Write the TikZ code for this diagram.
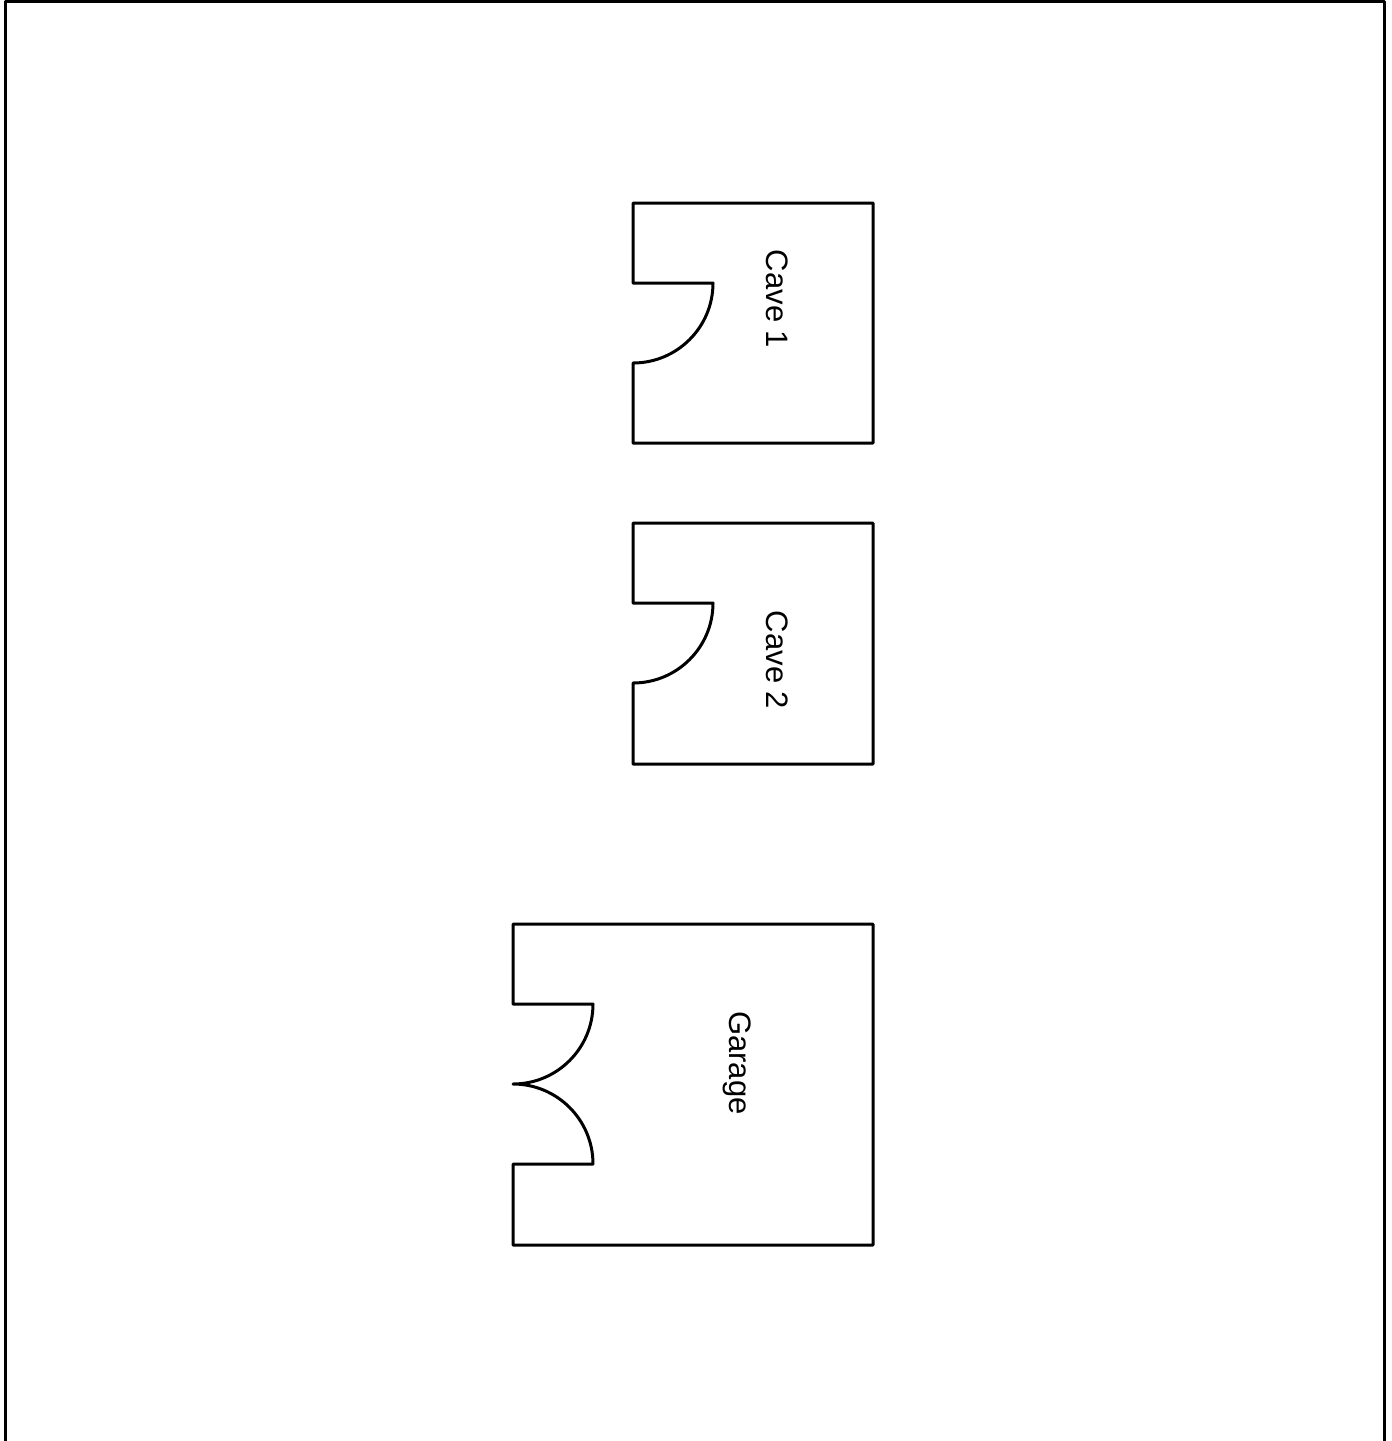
\documentclass[tikz,border=0pt]{standalone}
\usepackage{fontspec}
\setmainfont{Liberation Sans}
\usepackage{tikz}
\begin{document}
\begin{tikzpicture}[x=1pt, y=-1pt,
 wall/.style={draw=black, line width=3pt, line join=round, line cap=round},
 lbl/.style={rotate=-90, inner sep=0pt, font=\fontsize{31}{37}\selectfont}]
\useasboundingbox (0,0) rectangle (1392,1441);
% frame, open at the bottom
\draw[wall, line cap=butt](5.5,1441)--(5.5,1.5)--(1384.5,1.5)--(1384.5,1441);

% Cave 1
\draw[wall](633,203)--(633,283)--(713,283) arc[start angle=0, end angle=90, radius=80]
  --(633,443)--(873,443)--(873,203)--cycle;
\node[lbl](cave1) at (777,299){Cave 1};

% Cave 2
\draw[wall](633,523)--(633,603)--(713,603) arc[start angle=0, end angle=90, radius=80]
  --(633,764)--(873,764)--(873,523)--cycle;
\node[lbl](cave2) at (777,660){Cave 2};

% Garage, double door
\draw[wall](513,924)--(513,1004)--(593,1004) arc[start angle=0, end angle=90, radius=80]
  arc[start angle=-90, end angle=0, radius=80]--(513,1164)--(513,1245)--(873,1245)--(873,924)--cycle;
\node[lbl](garage) at (737,1063){Garage};

\end{tikzpicture}
\end{document}
